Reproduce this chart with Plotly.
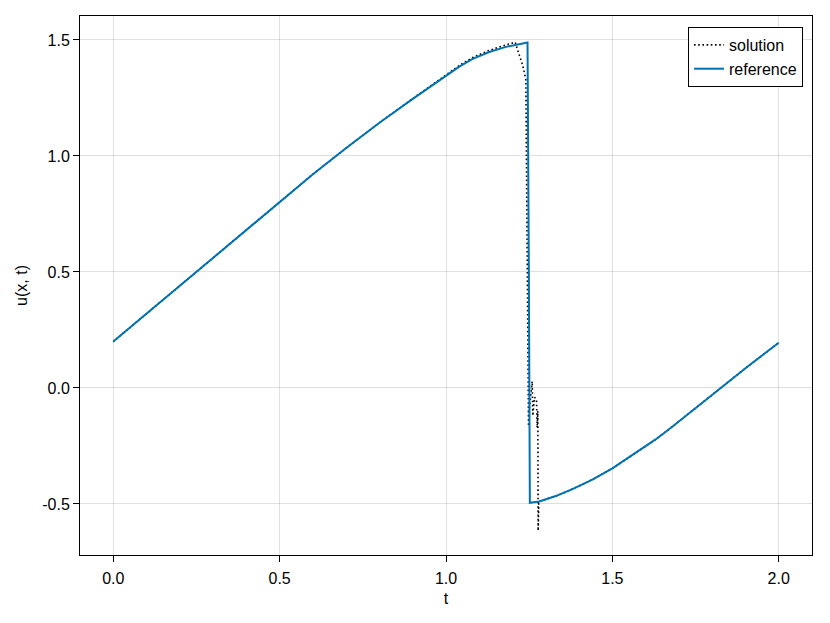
import plotly.graph_objects as go

# reference (exact) curve
ref_t = [0.0, 0.25, 0.5, 0.6, 0.7, 0.8, 0.9, 1.0, 1.04, 1.08, 1.13, 1.18, 1.22, 1.245,
         1.249, 1.252, 1.28, 1.3, 1.33, 1.38, 1.44, 1.5, 1.56, 1.63, 1.68, 1.73, 1.78,
         1.83, 1.9, 2.0]
ref_u = [0.2, 0.5, 0.804, 0.921, 1.034, 1.143, 1.246, 1.348, 1.385, 1.418, 1.448, 1.47,
         1.483, 1.489, 0.5, -0.495, -0.489, -0.48, -0.466, -0.436, -0.395, -0.347, -0.291,
         -0.222, -0.167, -0.109, -0.051, 0.006, 0.085, 0.195]

# numerical solution
sol_t = [0.0, 0.25, 0.5, 0.6, 0.7, 0.8, 0.9, 1.0, 1.04, 1.08, 1.13, 1.18, 1.2, 1.208,
         1.215, 1.23, 1.24, 1.244, 1.248, 1.250, 1.259, 1.261, 1.266, 1.272, 1.274,
         1.276, 1.277, 1.279, 1.31, 1.33, 1.38, 1.44, 1.5, 1.56, 1.63, 1.68, 1.73, 1.78,
         1.83, 1.9, 2.0]
sol_u = [0.2, 0.5, 0.804, 0.921, 1.034, 1.143, 1.247, 1.351, 1.39, 1.424, 1.455, 1.478,
         1.487, 1.49, 1.457, 1.393, 1.329, 0.6, -0.165, -0.1, 0.028, -0.12, -0.04, -0.05,
         -0.171, -0.10, -0.615, -0.49, -0.475, -0.466, -0.436, -0.395, -0.347, -0.291,
         -0.222, -0.167, -0.109, -0.051, 0.006, 0.085, 0.195]

x_tickvals = [0.0, 0.5, 1.0, 1.5, 2.0]
x_ticktext = ["0.0", "0.5", "1.0", "1.5", "2.0"]
y_tickvals = [-0.5, 0.0, 0.5, 1.0, 1.5]
y_ticktext = ["-0.5", "0.0", "0.5", "1.0", "1.5"]

fig = go.Figure()
fig.add_trace(go.Scatter(x=sol_t, y=sol_u, mode="lines", name="solution",
                         line=dict(color="black", width=1.6, dash="1.6px,2.6px")))
fig.add_trace(go.Scatter(x=ref_t, y=ref_u, mode="lines", name="reference",
                         line=dict(color="#0072B2", width=2, shape="linear")))

font = dict(family="Liberation Sans, Arial, sans-serif", size=16, color="black")
axis_common = dict(showgrid=True, gridcolor="rgba(0,0,0,0.12)", gridwidth=1,
                   zeroline=False, showline=True, linecolor="black", linewidth=1,
                   mirror=True, ticks="outside", ticklen=6, tickcolor="black",
                   tickfont=font, automargin=False)

# the page body adds an 8px offset; margins compensate so the plot area sits at
# x 80..812, y 16..555 of the window
fig.update_layout(
    width=830, height=623,
    margin=dict(l=72, r=26, t=8, b=76),
    paper_bgcolor="white", plot_bgcolor="white",
    font=font,
    showlegend=True,
    legend=dict(x=0.9877, y=0.9796, xanchor="right", yanchor="top",
                bgcolor="white", bordercolor="black", borderwidth=1,
                font=font, tracegroupgap=0),
    xaxis=dict(range=[-0.1, 2.1], tickvals=x_tickvals, ticktext=x_ticktext,
               ticklabelstandoff=3,
               title=dict(text="t", font=font, standoff=6), **axis_common),
    yaxis=dict(range=[-0.72, 1.603], tickvals=y_tickvals, ticktext=y_ticktext,
               title=dict(text="u(x, t)", font=font, standoff=10), **axis_common),
)

fig.write_html("out.html")
